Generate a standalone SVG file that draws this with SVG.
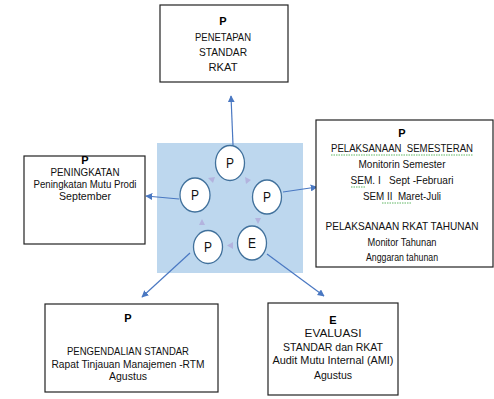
<svg xmlns="http://www.w3.org/2000/svg" width="494" height="399" viewBox="0 0 494 399">
<style>
.box{fill:#fff;stroke:#222;stroke-width:1.2}
.t{font-family:"Liberation Sans",Arial,sans-serif;font-size:11px;fill:#111;text-anchor:middle}
.s{font-size:10.5px}
.b{font-family:"Liberation Sans",Arial,sans-serif;font-weight:bold;font-size:11px;fill:#000;text-anchor:middle}
.c{fill:#fff;stroke:#41719c;stroke-width:1.3}
.cl{font-family:"Liberation Sans",Arial,sans-serif;font-size:14px;fill:#111;text-anchor:middle}
.con{stroke:#4a78c2;stroke-width:1.2;fill:none;marker-end:url(#ah)}
.sa{fill:#b3b3de}
.sq{stroke:#4caf50;stroke-width:0.9;fill:none;stroke-dasharray:1.5 1}
</style>
<defs>
<marker id="ah" viewBox="0 0 10 10" refX="9" refY="5" markerWidth="7" markerHeight="7" orient="auto" markerUnits="userSpaceOnUse">
<path d="M0,0 L10,5 L0,10 z" fill="#4a78c2"/>
</marker>
</defs>
<rect width="494" height="399" fill="#fff"/>
<g id="cycle">
<rect x="157" y="143" width="146" height="130" fill="#bdd7ee"/>
<path class="sa" d="M208,178 l7,-1 l-2,6 z"/>
<path class="sa" d="M245,177 l6,3 l-5,4 z"/>
<path class="sa" d="M255,218 l6,0 l-3,6 z"/>
<path class="sa" d="M233,242 l0,7 l-6,-3.5 z"/>
<path class="sa" d="M199,225 l6,0 l-3,-6 z"/>
<g id="c1"><ellipse class="c" cx="230" cy="163" rx="14.5" ry="17.5"/><text class="cl" x="230" y="168" textLength="8" lengthAdjust="spacingAndGlyphs">P</text></g>
<g id="c2"><ellipse class="c" cx="267" cy="197" rx="14.5" ry="17"/><text class="cl" x="267" y="202" textLength="8" lengthAdjust="spacingAndGlyphs">P</text></g>
<g id="c3"><ellipse class="c" cx="252" cy="243" rx="14.5" ry="17"/><text class="cl" x="252" y="248" textLength="8" lengthAdjust="spacingAndGlyphs">E</text></g>
<g id="c4"><ellipse class="c" cx="208" cy="247" rx="14.5" ry="16.5"/><text class="cl" x="208" y="252" textLength="8" lengthAdjust="spacingAndGlyphs">P</text></g>
<g id="c5"><ellipse class="c" cx="195" cy="195" rx="15" ry="17"/><text class="cl" x="195" y="200" textLength="8" lengthAdjust="spacingAndGlyphs">P</text></g>
</g>
<g id="connectors">
<line class="con" x1="233" y1="145" x2="231" y2="96"/>
<line class="con" x1="283" y1="192" x2="317" y2="187"/>
<line class="con" x1="267" y1="254" x2="324" y2="296"/>
<line class="con" x1="190" y1="253" x2="142" y2="297"/>
<line class="con" x1="179" y1="199" x2="146" y2="196"/>
</g>
<g id="penetapan">
<rect class="box" x="160" y="5" width="128" height="77"/>
<text class="b" x="223" y="25">P</text>
<text class="t" x="223" y="41" textLength="56" lengthAdjust="spacingAndGlyphs">PENETAPAN</text>
<text class="t" x="223" y="56" textLength="48" lengthAdjust="spacingAndGlyphs">STANDAR</text>
<text class="t" x="223" y="71" textLength="29" lengthAdjust="spacingAndGlyphs">RKAT</text>
</g>
<g id="pelaksanaan">
<rect class="box" x="316" y="120" width="177" height="147"/>
<text class="b" x="402" y="137">P</text>
<text class="t" x="402" y="152" xml:space="preserve" textLength="142" lengthAdjust="spacingAndGlyphs">PELAKSANAAN  SEMESTERAN</text>
<text class="t" x="402" y="168" textLength="87" lengthAdjust="spacingAndGlyphs">Monitorin Semester</text>
<text class="t" x="402" y="184" xml:space="preserve" textLength="103" lengthAdjust="spacingAndGlyphs">SEM. I   Sept -Februari</text>
<text class="t" x="402" y="200" xml:space="preserve" textLength="78" lengthAdjust="spacingAndGlyphs">SEM II  Maret-Juli</text>
<text class="t" x="402" y="230" textLength="153" lengthAdjust="spacingAndGlyphs">PELAKSANAAN RKAT TAHUNAN</text>
<text class="t" x="402" y="246" textLength="69" lengthAdjust="spacingAndGlyphs">Monitor Tahunan</text>
<text class="t" x="402" y="261" textLength="72" lengthAdjust="spacingAndGlyphs">Anggaran tahunan</text>
<path class="sq" d="M331,155 H473"/>
<path class="sq" d="M351,187 H366"/>
<path class="sq" d="M382,203 H412"/>
</g>
<g id="peningkatan">
<rect class="box" x="24" y="156" width="121" height="88"/>
<text class="b" x="85" y="164">P</text>
<text class="t s" x="85" y="176" textLength="69" lengthAdjust="spacingAndGlyphs">PENINGKATAN</text>
<text class="t s" x="85" y="188" textLength="103" lengthAdjust="spacingAndGlyphs">Peningkatan Mutu Prodi</text>
<text class="t s" x="85" y="200" textLength="52" lengthAdjust="spacingAndGlyphs">September</text>
</g>
<g id="pengendalian">
<rect class="box" x="45" y="304" width="173" height="88"/>
<text class="b" x="128" y="322">P</text>
<text class="t s" x="128" y="355" textLength="122" lengthAdjust="spacingAndGlyphs">PENGENDALIAN STANDAR</text>
<text class="t s" x="128" y="367.5" textLength="153" lengthAdjust="spacingAndGlyphs">Rapat Tinjauan Manajemen -RTM</text>
<text class="t s" x="128" y="380" textLength="38" lengthAdjust="spacingAndGlyphs">Agustus</text>
</g>
<g id="evaluasi">
<rect class="box" x="268" y="303" width="130" height="92"/>
<text class="b" x="333" y="324">E</text>
<text class="t" x="333" y="337" textLength="57" lengthAdjust="spacingAndGlyphs">EVALUASI</text>
<text class="t" x="333" y="351" textLength="100" lengthAdjust="spacingAndGlyphs">STANDAR dan RKAT</text>
<text class="t" x="333" y="364" textLength="121" lengthAdjust="spacingAndGlyphs">Audit Mutu Internal (AMI)</text>
<text class="t" x="333" y="379" textLength="38" lengthAdjust="spacingAndGlyphs">Agustus</text>
</g>
</svg>
